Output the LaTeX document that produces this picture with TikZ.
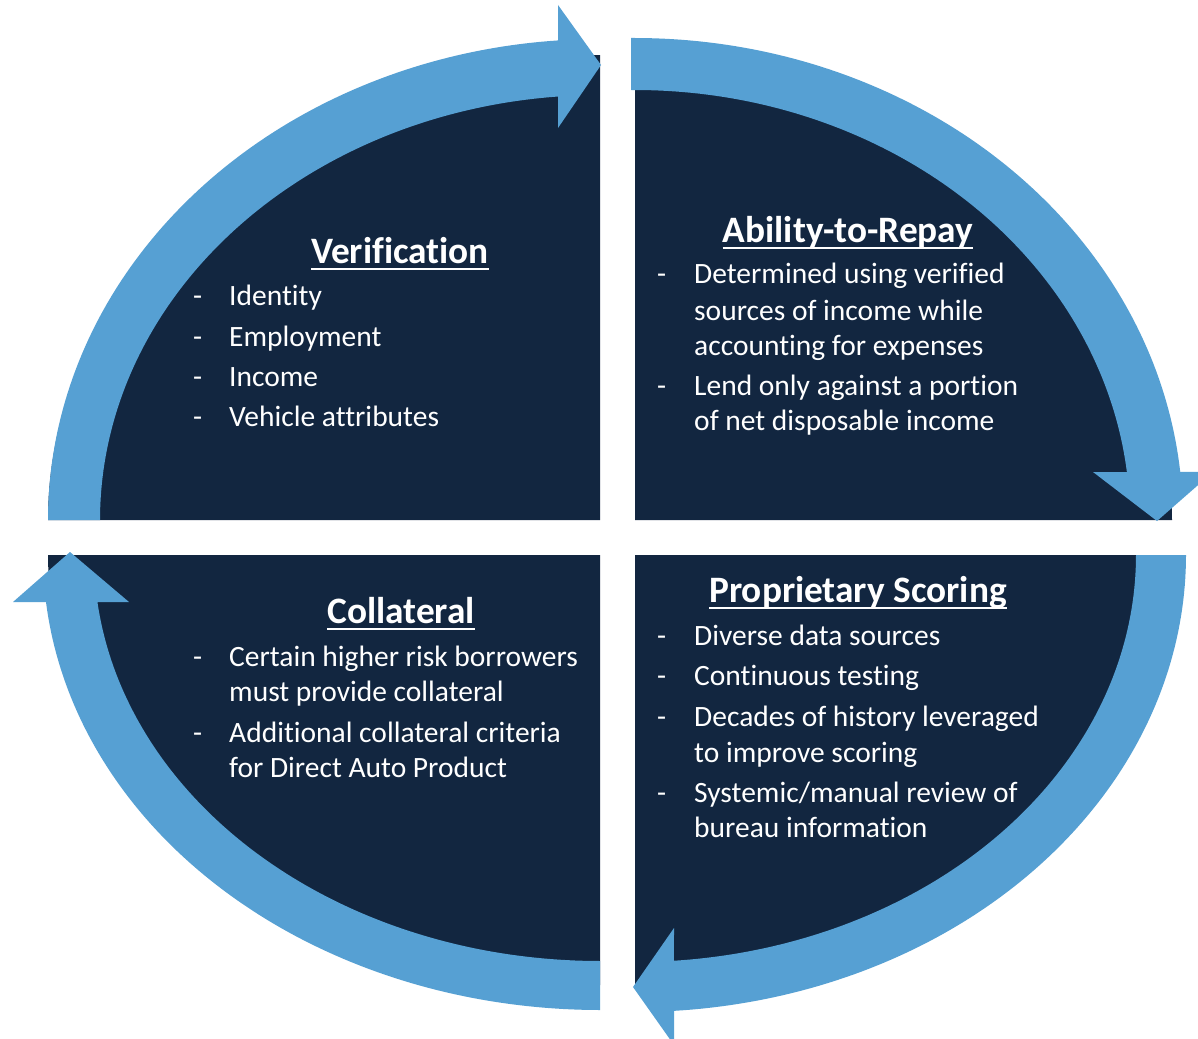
\documentclass[tikz,border=0pt]{standalone}
\usepackage{fontspec}
\setmainfont{Carlito}[Ligatures=NoCommon]
\definecolor{navy}{RGB}{18,38,64}
\definecolor{sky}{RGB}{86,160,211}
\tikzset{
  pie/.style={fill=navy},
  band/.style={fill=sky},
  heading/.style={font=\fontsize{37.3}{44}\selectfont\bfseries, text=white, inner sep=0pt, anchor=base},
  body/.style={font=\fontsize{29.5}{35.5}\selectfont, text=white, inner sep=0pt, anchor=base west},
  uline/.style={white, line width=2.2pt},
}
\begin{document}
\begin{tikzpicture}[x=1pt,y=-1pt]
\clip (0,0) rectangle (1198,1038);
\fill[white] (0,0) rectangle (1198,1038);

% four quarter-ellipse panels
\fill[pie] (600,520) -- plot[domain=180:270,samples=90] ({600+552*cos(\x)},{520+465*sin(\x)}) -- cycle;
\fill[pie] (635,520) -- plot[domain=270:360,samples=90] ({635+537*cos(\x)},{520+455*sin(\x)}) -- cycle;
\fill[pie] (635,555) -- plot[domain=0:90,samples=90] ({635+525*cos(\x)},{555+430*sin(\x)}) -- cycle;
\fill[pie] (600,555) -- plot[domain=90:180,samples=90] ({600+552*cos(\x)},{555+430*sin(\x)}) -- cycle;

% curved arrows running clockwise round the panels
\fill[band] plot[domain=180:265.64,samples=90] ({600+552*cos(\x)},{520+481*sin(\x)})
  -- (558,5) -- (601,65) -- (558,128)
  -- plot[domain=265.18:180,samples=90] ({600+500*cos(\x)},{520+425*sin(\x)}) -- cycle;
\fill[band] (631,38) -- plot[domain=270:354.28,samples=90] ({635+548*cos(\x)},{520+482*sin(\x)})
  -- (1213,472) -- (1157,521) -- (1093,472)
  -- plot[domain=353.59:270,samples=90] ({635+495*cos(\x)},{520+430*sin(\x)}) -- (631,90) -- cycle;
\fill[band] plot[domain=0:85.94,samples=90] ({635+551*cos(\x)},{555+457*sin(\x)})
  -- (674,1045) -- (633,987) -- (674,928)
  -- plot[domain=85.54:0,samples=90] ({635+501*cos(\x)},{555+407*sin(\x)}) -- cycle;
\fill[band] plot[domain=90:174.07,samples=90] ({600+557*cos(\x)},{555+455*sin(\x)})
  -- (13,602) -- (70,552) -- (129,602)
  -- plot[domain=173.35:90,samples=90] ({600+506*cos(\x)},{555+406*sin(\x)}) -- cycle;

% Verification
\node[heading] (hver) at (400,263) {Verification};
\draw[uline] ([yshift=-6pt]hver.base west) -- ([yshift=-6pt]hver.base east);
\node[body] (ver1d) at (193,305) {-}; \node[body] (ver1) at (229,305) {Identity};
\node[body] (ver2d) at (193,346) {-}; \node[body] (ver2) at (229,346) {Employment};
\node[body] (ver3d) at (193,386) {-}; \node[body] (ver3) at (229,386) {Income};
\node[body] (ver4d) at (193,426) {-}; \node[body] (ver4) at (229,426) {Vehicle attributes};

% Ability-to-Repay
\node[heading] (hatr) at (848,242) {Ability-to-Repay};
\draw[uline] ([yshift=-6pt]hatr.base west) -- ([yshift=-6pt]hatr.base east);
\node[body] (atr1d) at (657,283) {-}; \node[body] (atr1a) at (694,283) {Determined using verified};
\node[body] (atr1b) at (694,320) {sources of income while};
\node[body] (atr1c) at (694,355) {accounting for expenses};
\node[body] (atr2d) at (657,395) {-}; \node[body] (atr2a) at (694,395) {Lend only against a portion};
\node[body] (atr2b) at (694,430) {of net disposable income};

% Proprietary Scoring
\node[heading] (hps) at (858,602) {Proprietary Scoring};
\draw[uline] ([yshift=-6pt]hps.base west) -- ([yshift=-6pt]hps.base east);
\node[body] (ps1d) at (657,645) {-}; \node[body] (ps1) at (694,645) {Diverse data sources};
\node[body] (ps2d) at (657,685) {-}; \node[body] (ps2) at (694,685) {Continuous testing};
\node[body] (ps3d) at (657,726) {-}; \node[body] (ps3a) at (694,726) {Decades of history leveraged};
\node[body] (ps3b) at (694,762) {to improve scoring};
\node[body] (ps4d) at (657,802) {-}; \node[body] (ps4a) at (694,802) {Systemic/manual review of};
\node[body] (ps4b) at (694,837) {bureau information};

% Collateral
\node[heading] (hcol) at (401,623) {Collateral};
\draw[uline] ([yshift=-6pt]hcol.base west) -- ([yshift=-6pt]hcol.base east);
\node[body] (col1d) at (193,666) {-}; \node[body] (col1a) at (229,666) {Certain higher risk borrowers};
\node[body] (col1b) at (229,701) {must provide collateral};
\node[body] (col2d) at (193,742) {-}; \node[body] (col2a) at (229,742) {Additional collateral criteria};
\node[body] (col2b) at (229,777) {for Direct Auto Product};
\end{tikzpicture}
\end{document}
